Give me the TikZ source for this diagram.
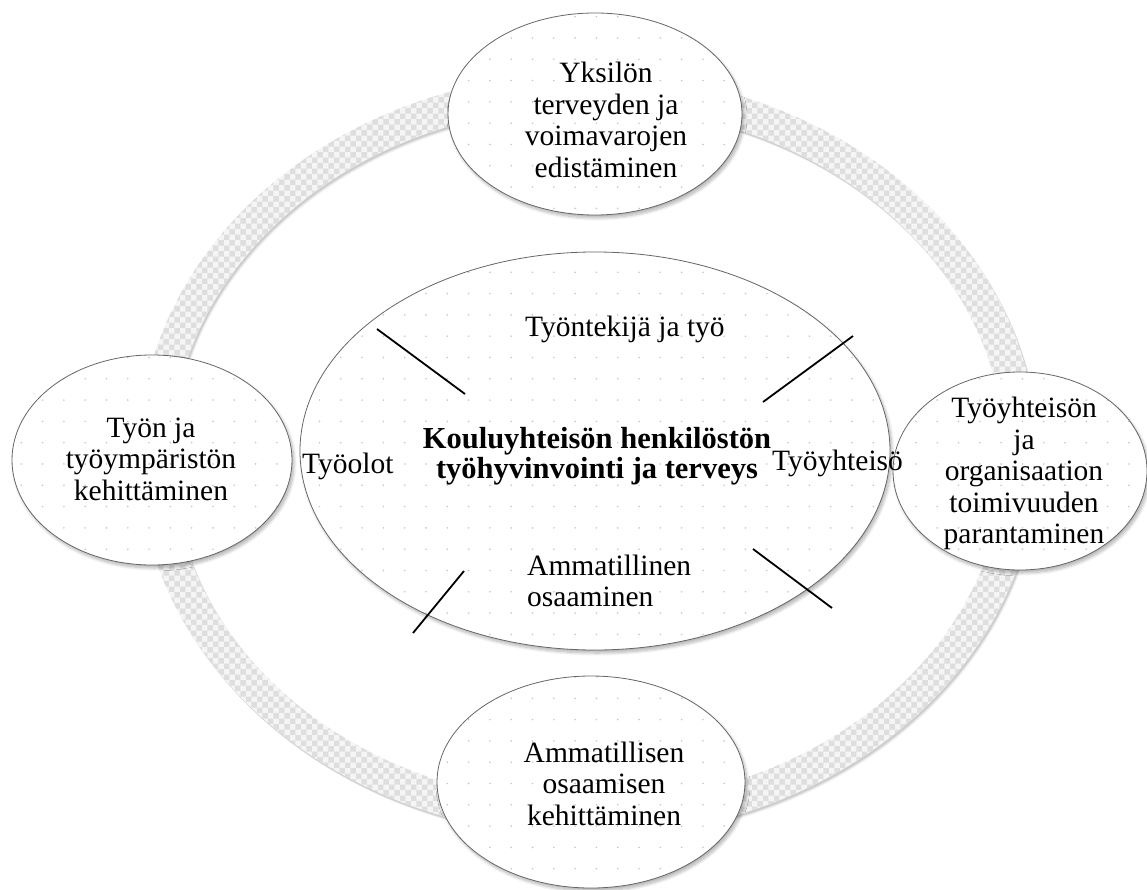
\documentclass[tikz,border=0pt]{standalone}
\usepackage{fontspec}
\setmainfont{Liberation Serif}
\usetikzlibrary{shapes.geometric,patterns,patterns.meta,shadows.blur}
\begin{document}
\begin{tikzpicture}[x=1pt,y=-1pt,
  oval/.style={ellipse, draw=black!60, line width=0.8pt, inner sep=0pt,
    blur shadow={shadow xshift=2pt, shadow yshift=-3pt, shadow blur radius=3pt, shadow blur steps=8, shadow opacity=30},
    preaction={fill=white},
    pattern={Dots[distance=21.3pt, radius=0.9pt]}, pattern color=black!22},
  txt/.style={inner sep=0pt, align=center, font=\fontsize{29.5}{31.5}\selectfont},
  bold/.style={inner sep=0pt, align=center, font=\fontsize{30.5}{29.5}\selectfont\bfseries},
  tick/.style={line width=1.8pt, black}
]
\useasboundingbox (0,0) rectangle (1147,890);
% ring shadow
\foreach \sx/\sy/\op in {2.5/3.5/0.05, 1.8/2.6/0.07, 1.2/1.8/0.09} {
  \path[fill=black, fill opacity=\op, even odd rule, shift={(\sx,\sy)}]
    (588,455) ellipse [x radius=449.5, y radius=381.5]
    (588,455) ellipse [x radius=416.5, y radius=348.5];
}
% ring
\path[even odd rule, fill=black!4]
  (588,455) ellipse [x radius=449.5, y radius=381.5]
  (588,455) ellipse [x radius=416.5, y radius=348.5];
\path[even odd rule, pattern=checkerboard, pattern color=black!13]
  (588,455) ellipse [x radius=449.5, y radius=381.5]
  (588,455) ellipse [x radius=416.5, y radius=348.5];
% ellipses
\node[oval, minimum width=590pt, minimum height=398pt] (core) at (595,451) {};
\node[oval, minimum width=294pt, minimum height=202pt] (etop) at (595,114) {};
\node[oval, minimum width=280pt, minimum height=210pt] (eleft) at (152,460) {};
\node[oval, minimum width=254pt, minimum height=198pt] (eright) at (1020,471) {};
\node[oval, minimum width=308pt, minimum height=212pt] (ebottom) at (591,782) {};
% outer texts
\node[txt] (ttop) at (606,120) {Yksilön\\terveyden ja\\voimavarojen\\edistäminen};
\node[txt] (tleft) at (151,459) {Työn ja\\työympäristön\\kehittäminen};
\node[txt] (tright) at (1024,473.5) {Työyhteisön\\ja\\organisaation\\toimivuuden\\parantaminen};
\node[txt] (tbottom) at (604,783.5) {Ammatillisen\\osaamisen\\kehittäminen};
% inner texts
\node[txt, anchor=base west] (tworker) at (525,336) {Työntekijä ja työ};
\node[bold] (tmain) at (597,456) {Kouluyhteisön henkilöstön\\työhyvinvointi ja terveys};
\node[txt, anchor=base west] (tcond) at (302,473) {Työolot};
\node[txt, anchor=base west] (tcomm) at (772,470) {Työyhteisö};
\node[txt, align=left, anchor=west] (tskill) at (527,581) {Ammatillinen\\osaaminen};
% tick lines
\coordinate (lt1) at (377,329); \coordinate (lt2) at (465,394);
\coordinate (rt1) at (763,402); \coordinate (rt2) at (853,336);
\coordinate (lb1) at (464,571); \coordinate (lb2) at (413,633);
\coordinate (rb1) at (753,549); \coordinate (rb2) at (832,608);
\draw[tick] (lt1) -- (lt2);
\draw[tick] (rt1) -- (rt2);
\draw[tick] (lb1) -- (lb2);
\draw[tick] (rb1) -- (rb2);
\end{tikzpicture}
\end{document}
